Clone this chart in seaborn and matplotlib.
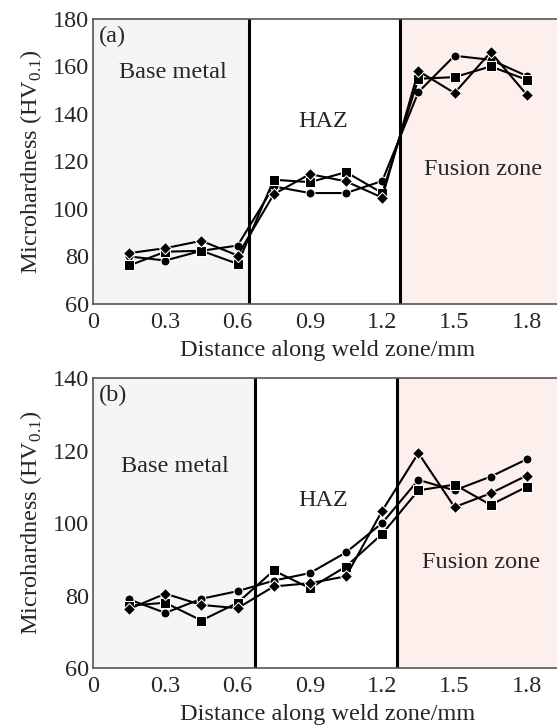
import numpy as np
import pandas as pd
import seaborn as sns
from matplotlib import pyplot as plt

# distance along the weld zone (mm), same for every series
distance = [0.15, 0.3, 0.45, 0.6, 0.75, 0.9, 1.05, 1.2, 1.35, 1.5, 1.65, 1.8]

# panel (a)
a_circle = [80.0, 78.3, 82.4, 84.6, 109.5, 106.7, 106.7, 111.8, 149.2, 164.5, 162.8, 156.0]
a_square = [76.2, 82.0, 82.4, 76.9, 112.3, 111.3, 115.5, 106.7, 154.8, 155.5, 160.0, 154.4]
a_diamond = [81.4, 83.5, 86.6, 80.4, 106.2, 114.7, 111.6, 104.8, 158.1, 148.8, 166.0, 148.1]
a_bounds = [0.649, 1.275]

# panel (b)
b_circle = [78.9, 75.2, 79.1, 81.2, 84.1, 86.2, 91.9, 100.0, 111.9, 109.0, 112.8, 117.6]
b_square = [77.2, 78.0, 73.1, 78.0, 86.9, 82.0, 88.0, 97.0, 109.0, 110.6, 105.0, 110.0]
b_diamond = [76.3, 80.5, 77.4, 76.5, 82.5, 83.4, 85.3, 103.4, 119.3, 104.4, 108.2, 113.1]
b_bounds = [0.673, 1.261]

zone_names = ["Base metal", "HAZ", "Fusion zone"]

FS = 17.5


def make_frame(circle, square, diamond):
    """Long-form table of one panel for seaborn."""
    frames = []
    for name, vals in [("circle", circle), ("square", square),
                       ("diamond", diamond)]:
        frames.append(pd.DataFrame({"x": distance, "y": vals, "s": name}))
    return pd.concat(frames, ignore_index=True)


def draw_panel(ax, df, bounds, ylim, yticks, label, text_pos):
    ax.axvspan(0, bounds[0], color="#f5f5f5", zorder=0)
    ax.axvspan(bounds[1], 2.0, color="#fdf0ec", zorder=0)
    for b in bounds:
        ax.axvline(b, color="black", lw=2.2, zorder=1)

    sns.lineplot(data=df, x="x", y="y", style="s", markers={
        "circle": "o", "square": "s", "diamond": "D"}, dashes=False,
        color="black", lw=1.5, markersize=6.5, legend=False, ax=ax,
        sort=False, zorder=3)

    ax.set_xlim(0, 1.95)
    ax.set_ylim(*ylim)
    ax.set_xticks([0, 0.3, 0.6, 0.9, 1.2, 1.5, 1.8])
    ax.set_xticklabels(["0", "0.3", "0.6", "0.9", "1.2", "1.5", "1.8"])
    ax.set_yticks(yticks)
    ax.tick_params(direction="in", length=5, width=1, labelsize=FS,
                   color="#444444")
    ax.tick_params(axis="x", pad=6)
    ax.tick_params(axis="y", pad=3)
    for sp in ax.spines.values():
        sp.set_color("#555555")
        sp.set_linewidth(1.2)
    ax.set_xlabel("Distance along weld zone/mm", fontsize=FS, labelpad=5)
    ax.set_ylabel(r"Microhardness (HV$_{\mathrm{0.1}}$)", fontsize=FS,
                  labelpad=6)
    ax.text(0.012, 0.975, label, transform=ax.transAxes, fontsize=FS,
            va="top", ha="left")
    for name, (tx, ty) in zip(zone_names, text_pos):
        ax.text(tx, ty, name, fontsize=FS, ha="center", va="center")


sns.set_style("white")
plt.rcParams["font.family"] = ["Liberation Serif", "DejaVu Serif"]
plt.rcParams["mathtext.fontset"] = "custom"
plt.rcParams["mathtext.rm"] = "Liberation Serif"

fig = plt.figure(figsize=(5.57, 7.26), dpi=100)
ax1 = fig.add_axes([0.167, 0.5813, 0.8437, 0.3926])
ax2 = fig.add_axes([0.167, 0.0799, 0.8437, 0.3994])

draw_panel(ax1, make_frame(a_circle, a_square, a_diamond), a_bounds,
           (60, 180), [60, 80, 100, 120, 140, 160, 180], "(a)",
           [(0.33, 157.5), (0.953, 136.8), (1.62, 116.6)])
draw_panel(ax2, make_frame(b_circle, b_square, b_diamond), b_bounds,
           (60, 140), [60, 80, 100, 120, 140], "(b)",
           [(0.34, 115.6), (0.956, 106.2), (1.612, 89.2)])

fig.savefig("out.png", dpi=100)
